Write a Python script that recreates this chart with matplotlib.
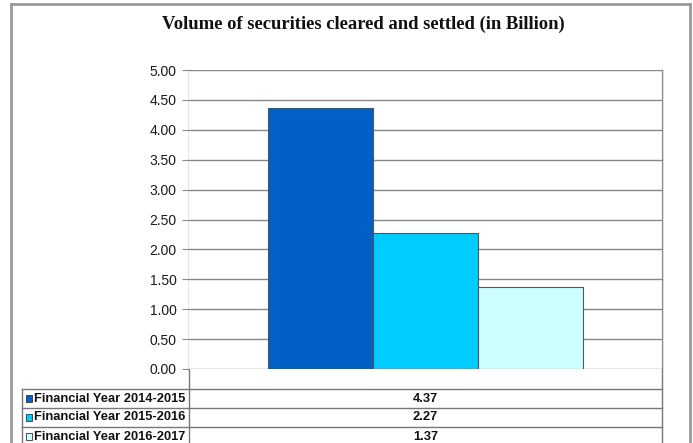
import matplotlib.pyplot as plt
from matplotlib.lines import Line2D
from matplotlib.patches import Rectangle
import numpy as np

# Volume of securities cleared and settled, per financial year (billion)
series = ["Financial Year 2014-2015", "Financial Year 2015-2016",
          "Financial Year 2016-2017"]
volumes = [4.37, 2.27, 1.37]
colors = ["#0060C6", "#00CCFF", "#CCFFFF"]
yticks = np.arange(0, 5.01, 0.5)

W, H = 693, 443
fig = plt.figure(figsize=(W / 100, H / 100), dpi=100)
fig.patch.set_facecolor("white")

# plot area in pixel coordinates
left, right, top, bottom = 189, 662, 70, 369
ax = fig.add_axes([left / W, 1 - bottom / H, (right - left) / W, (bottom - top) / H])

# clustered bars: one category, three series side by side
n = len(volumes)
group_w = 2 / 3
bar_w = group_w / n
x0 = -group_w / 2
for i, (v, c) in enumerate(zip(volumes, colors)):
    ax.bar(x0 + bar_w * (i + 0.5), v, width=bar_w, color=c,
           edgecolor="#555555", linewidth=0.8, zorder=3)

ax.set_xlim(-0.5, 0.5)
ax.set_ylim(0, 5)
ax.set_yticks(yticks)
ax.set_yticklabels([f"{t:.2f}" for t in yticks], fontsize=10,
                   family="Liberation Sans", color="#1a1a1a")
ax.set_xticks([])
ax.yaxis.grid(True, color="#888888", linewidth=1.0, zorder=0)
ax.tick_params(axis="y", length=5, width=0.8, color="#888888", pad=4)
for side in ["top", "bottom", "left"]:
    ax.spines[side].set_visible(False)
ax.spines["right"].set_color("#888888")

# overlay in pixel units for frame, title and data table
ov = fig.add_axes([0, 0, 1, 1], zorder=-1)
ov.set_xlim(0, W)
ov.set_ylim(H, 0)
ov.axis("off")


def hline(y, x1, x2, color="#777777", lw=1.0):
    ov.add_line(Line2D([x1, x2], [y, y], color=color, lw=lw))


def vline(x, y1, y2, color="#777777", lw=1.0):
    ov.add_line(Line2D([x, x], [y1, y2], color=color, lw=lw))


# outer frame
hline(4, 11, 690, color="#999999", lw=2)
vline(11, 4, H, color="#999999", lw=2)
vline(690, 4, H, color="#999999", lw=2)

ov.text(363, 24, "Volume of securities cleared and settled (in Billion)",
        ha="center", va="center", fontsize=13.4, fontweight="bold",
        family="Liberation Serif", color="#111111")

# y axis continues down through the table
vline(left, top, H)
vline(right, top, H)

rows = [389, 408, 427, 446]
vline(22, rows[0], H)
for y in rows[:-1]:
    hline(y, 22, right)

for i, (name, v, c) in enumerate(zip(series, volumes, colors)):
    yc = (rows[i] + rows[i + 1]) / 2
    ov.add_patch(Rectangle((26, yc - 3.5), 6, 7, facecolor=c,
                           edgecolor="#333333", lw=0.6))
    ov.text(34, yc, name, ha="left", va="center", fontsize=9.3,
            fontweight="bold", family="Liberation Sans", color="#111111")
    ov.text((left + right) / 2, yc, f"{v:.2f}", ha="center", va="center",
            fontsize=9.3, fontweight="bold", family="Liberation Sans",
            color="#111111")

fig.savefig("out.png", dpi=100)
